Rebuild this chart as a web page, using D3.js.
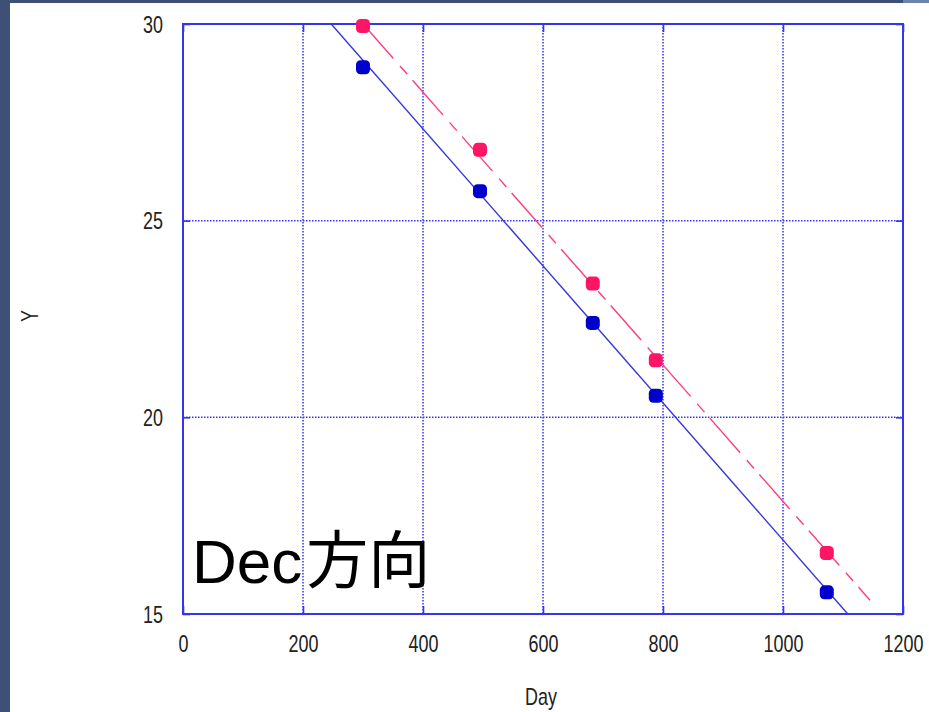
<!DOCTYPE html>
<html>
<head>
<meta charset="utf-8">
<script src="https://cdn.jsdelivr.net/npm/d3@7"></script>
<style>
  html, body { margin: 0; padding: 0; background: #ffffff; }
  svg { display: block; }
</style>
</head>
<body>
<script>
// Observation days and measured Y positions for the two series
const days = [300, 495, 683, 788, 1073];
const blueY = [28.9, 25.75, 22.4, 20.55, 15.55];
const pinkY = [29.95, 26.8, 23.4, 21.45, 16.55];

// Endpoints of the fitted straight lines
const blueFitDays = [247, 1108];
const blueFitY = [30, 15];
const pinkFitDays = [300, 1145];
const pinkFitY = [30.0, 15.35];

// Axis ticks
const xTicks = [0, 200, 400, 600, 800, 1000, 1200];
const yTicks = [15, 20, 25, 30];

const W = 929, H = 712;
const margin = { left: 183, right: 25, top: 24, bottom: 98 };

const svg = d3.select("body").append("svg")
  .attr("width", W).attr("height", H);

// Slide-style border strips
svg.append("rect").attr("x", 0).attr("y", 0).attr("width", W).attr("height", 3).attr("fill", "#3e5076");
svg.append("rect").attr("x", 903).attr("y", 0).attr("width", W - 903).attr("height", 3).attr("fill", "#6b82ad");
svg.append("rect").attr("x", 0).attr("y", 0).attr("width", 10).attr("height", H).attr("fill", "#3e5076");

const x = d3.scaleLinear().domain([0, 1200]).range([margin.left, W - margin.right - 1]);
const y = d3.scaleLinear().domain([15, 30]).range([H - margin.bottom, margin.top]);

const frameColor = "#3535ee";
const labelFont = "'Liberation Sans', Arial, sans-serif";
const narrow = 0.78;

// Dotted grid
const grid = svg.append("g");
grid.selectAll("line.gx").data(xTicks.filter(d => d > 0 && d < 1200)).join("line")
  .attr("x1", d => x(d)).attr("x2", d => x(d))
  .attr("y1", y(30)).attr("y2", y(15))
  .attr("stroke", frameColor).attr("stroke-width", 1.5)
  .attr("stroke-dasharray", "1.5,1.5");
grid.selectAll("line.gy").data(yTicks.filter(d => d > 15 && d < 30)).join("line")
  .attr("x1", x(0)).attr("x2", x(1200))
  .attr("y1", d => y(d)).attr("y2", d => y(d))
  .attr("stroke", frameColor).attr("stroke-width", 1.5)
  .attr("stroke-dasharray", "1.5,1.5");

// Inward tick marks on all four sides
function tickMarks(axis, transform) {
  const g = svg.append("g").attr("transform", transform).call(axis);
  g.select(".domain").remove();
  g.selectAll(".tick line").attr("stroke", frameColor).attr("stroke-width", 1.6);
  g.selectAll(".tick text").remove();
}
tickMarks(d3.axisBottom(x).tickValues(xTicks).tickSize(-8), `translate(0,${y(15)})`);
tickMarks(d3.axisTop(x).tickValues(xTicks).tickSize(-8), `translate(0,${y(30)})`);
tickMarks(d3.axisLeft(y).tickValues(yTicks).tickSize(-7), `translate(${x(0)},0)`);
tickMarks(d3.axisRight(y).tickValues(yTicks).tickSize(-7), `translate(${x(1200)},0)`);

// Tick labels in a condensed style
const xAxis = svg.append("g").attr("transform", `translate(0,${y(15)})`)
  .call(d3.axisBottom(x).tickValues(xTicks).tickSize(0).tickFormat(d3.format("d")));
xAxis.select(".domain").remove();
xAxis.selectAll("text")
  .attr("y", 0).attr("dy", null)
  .attr("transform", `translate(0,38) scale(${narrow},1)`)
  .attr("font-family", labelFont).attr("font-size", 23).attr("fill", "#222");

const yAxis = svg.append("g").attr("transform", `translate(${x(0)},0)`)
  .call(d3.axisLeft(y).tickValues(yTicks).tickSize(0).tickFormat(d3.format("d")));
yAxis.select(".domain").remove();
yAxis.selectAll("text")
  .attr("x", 0).attr("dy", "0.36em")
  .attr("transform", `translate(-20,0) scale(${narrow},1)`)
  .attr("font-family", labelFont).attr("font-size", 23).attr("fill", "#222");

// Axis titles
svg.append("text").attr("transform", `translate(541,705) scale(${narrow},1)`).attr("text-anchor", "middle")
  .attr("font-family", labelFont).attr("font-size", 23).attr("fill", "#222").text("Day");
svg.append("text").attr("transform", `translate(38,316) rotate(-90) scale(${narrow},1)`).attr("text-anchor", "middle")
  .attr("font-family", labelFont).attr("font-size", 23).attr("fill", "#222").text("Y");

// Clip the fitted lines to the plot box
svg.append("clipPath").attr("id", "plotClip").append("rect")
  .attr("x", x(0)).attr("y", y(30)).attr("width", x(1200) - x(0)).attr("height", y(15) - y(30));

const line = d3.line().x(d => x(d[0])).y(d => y(d[1]));
const plot = svg.append("g").attr("clip-path", "url(#plotClip)");

plot.append("path").datum(d3.zip(blueFitDays, blueFitY))
  .attr("d", line).attr("fill", "none").attr("stroke", "#3434dc").attr("stroke-width", 1.4);
plot.append("path").datum(d3.zip(pinkFitDays, pinkFitY))
  .attr("d", line).attr("fill", "none").attr("stroke", "#ff3c7c").attr("stroke-width", 1.4)
  .attr("stroke-dasharray", "46,10,11,8");

// Frame
svg.append("rect").attr("x", x(0)).attr("y", y(30))
  .attr("width", x(1200) - x(0)).attr("height", y(15) - y(30))
  .attr("fill", "none").attr("stroke", frameColor).attr("stroke-width", 2);

// Data markers
const size = 14;
svg.append("g").selectAll("rect").data(d3.zip(days, blueY)).join("rect")
  .attr("x", d => x(d[0]) - size / 2).attr("y", d => y(d[1]) - size / 2)
  .attr("width", size).attr("height", size).attr("rx", 4.5)
  .attr("fill", "#0000cc");
svg.append("g").selectAll("rect").data(d3.zip(days, pinkY)).join("rect")
  .attr("x", d => x(d[0]) - size / 2).attr("y", d => y(d[1]) - size / 2)
  .attr("width", size).attr("height", size).attr("rx", 4.5)
  .attr("fill", "#ff1566");

// Panel caption
const cap = svg.append("text").attr("x", 192).attr("y", 583)
  .attr("font-size", 62).attr("fill", "#000");
cap.append("tspan").attr("font-family", "'Liberation Sans', Arial, sans-serif").text("Dec");
cap.append("tspan").attr("font-family", "'Noto Sans CJK JP', sans-serif").attr("dx", 4).text("方向");
</script>
</body>
</html>
